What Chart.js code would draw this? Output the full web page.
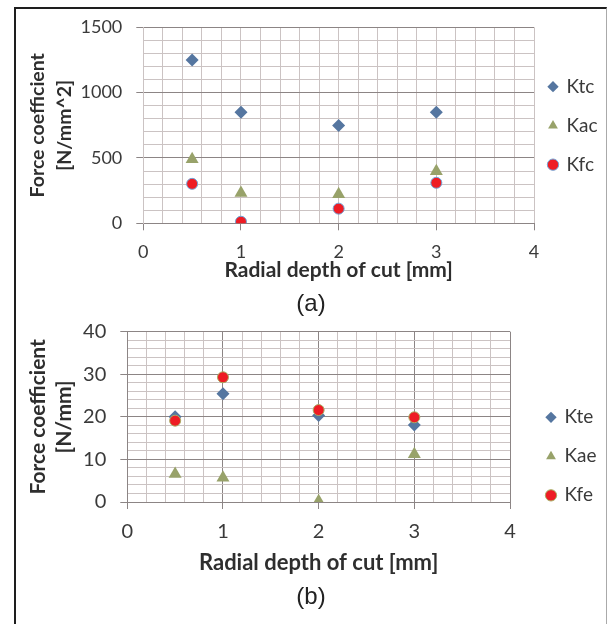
<!DOCTYPE html>
<html>
<head>
<meta charset="utf-8">
<script src="https://cdn.jsdelivr.net/npm/chart.js@4/dist/chart.umd.min.js"></script>
<style>
  html, body { margin: 0; padding: 0; background: #fff; }
  body { width: 611px; height: 624px; position: relative; overflow: hidden; }
  .frame {
    position: absolute; left: 14px; top: 7px; width: 590px; height: 640px;
    border-left: 2px solid #1e1e1e; border-top: 2px solid #1e1e1e; border-right: 1px solid #aaa;
  }
  canvas { position: absolute; left: 0; }
  .cap {
    position: absolute; left: 0; width: 622px; text-align: center;
    font-family: "Liberation Sans", Arial, sans-serif; font-size: 24px; line-height: 24px; color: #222;
  }
</style>
</head>
<body>
<div class="frame"></div>
<canvas id="chartA" width="611" height="290" style="top:0px"></canvas>
<div class="cap" style="top:291px">(a)</div>
<canvas id="chartB" width="611" height="280" style="top:305px"></canvas>
<div class="cap" style="top:584px">(b)</div>
<script>
// radial depth of cut [mm]
const depths = [0.5, 1, 2, 3];

// (a) cutting force coefficients [N/mm^2]
const ktc = [1250, 850, 748, 850];
const kac = [490, 232, 222, 398];
const kfc = [302, 12, 112, 310];

// (b) edge force coefficients [N/mm]
const kte = [20.0, 25.4, 20.3, 18.1];
const kae = [6.6, 5.7, 0.2, 11.2];
const kfe = [19.1, 29.3, 21.6, 19.9];

const xRange = [0, 4];
const yRangeA = [0, 1500];
const yRangeB = [0, 40];

const blue = "#5576a0";
const olive = "#98a26a";
const red = "#ee1c24";
const minorGrid = "#cbc3c3";
const majorGrid = "#8c8585";
const textColor = "#3a3a3a";

Chart.defaults.font.family = "Lato, 'Open Sans', sans-serif";
Chart.defaults.color = textColor;

function pts(xs, ys) {
  return xs.map((x, i) => ({ x: x, y: ys[i] }));
}

function isMultiple(v, step) {
  const r = v / step;
  return Math.abs(r - Math.round(r)) < 1e-6;
}

// move the legend box to where the original sits
const legendShift = {
  id: "legendShift",
  afterLayout(chart, args, opts) {
    const l = chart.legend;
    l.left += opts.dx; l.right += opts.dx;
    l.top += opts.dy; l.bottom += opts.dy;
  }
};

function makeChart(id, cfg) {
  const ctx = document.getElementById(id).getContext("2d");
  return new Chart(ctx, {
    type: "scatter",
    data: {
      datasets: [
        { label: cfg.names[0], data: pts(depths, cfg.series[0]), pointStyle: "rectRot", radius: 6.5,
          backgroundColor: blue, borderColor: blue, borderWidth: 0, order: 2 },
        { label: cfg.names[1], data: pts(depths, cfg.series[1]), pointStyle: "triangle", radius: 7.5,
          backgroundColor: olive, borderColor: olive, borderWidth: 0, order: 1 },
        { label: cfg.names[2], data: pts(depths, cfg.series[2]), pointStyle: "circle", radius: 5.5,
          backgroundColor: red, borderColor: cfg.ringColor, borderWidth: 1, order: 0 }
      ]
    },
    options: {
      responsive: false,
      animation: false,
      events: [],
      layout: { padding: { left: 16, top: cfg.top, right: cfg.right, bottom: 0 } },
      plugins: {
        tooltip: { enabled: false },
        legend: {
          position: "right",
          maxWidth: 77,
          labels: {
            usePointStyle: true,
            boxWidth: 8,
            boxHeight: 8,
            padding: 20,
            color: textColor,
            font: { size: 19 },
            sort: (a, b) => a.datasetIndex - b.datasetIndex
          }
        },
        legendShift: cfg.legendShift
      },
      scales: {
        x: {
          type: "linear",
          min: xRange[0],
          max: xRange[1],
          afterFit: (s) => { s.height = cfg.xHeight; },
          border: { display: true, color: majorGrid },
          grid: {
            color: (c) => (cfg.xMajor && isMultiple(c.tick.value, 1)) ? majorGrid : minorGrid,
            tickColor: (c) => isMultiple(c.tick.value, 1) ? majorGrid : "rgba(0,0,0,0)",
            tickLength: 7
          },
          ticks: {
            stepSize: 0.2,
            autoSkip: false,
            maxRotation: 0,
            padding: 11,
            font: { size: cfg.tickSize },
            callback: (v) => isMultiple(v, 1) ? Math.round(v) : ""
          },
          title: {
            display: true,
            text: "Radial depth of cut [mm]",
            font: { size: cfg.xTitleSize, weight: "bold" },
            color: "#2e2e2e",
            padding: { top: 0, bottom: cfg.xTitlePad }
          }
        },
        y: {
          min: cfg.yRange[0],
          max: cfg.yRange[1],
          afterFit: (s) => { s.width = cfg.yWidth; },
          border: { display: true, color: cfg.xMajor ? majorGrid : minorGrid },
          grid: {
            color: (c) => isMultiple(c.tick.value, cfg.yMajor) ? majorGrid : minorGrid,
            tickColor: (c) => isMultiple(c.tick.value, cfg.yMajor) ? majorGrid : "rgba(0,0,0,0)",
            tickLength: 7
          },
          ticks: {
            stepSize: cfg.yStep,
            autoSkip: false,
            padding: cfg.yTickPad,
            font: { size: cfg.tickSize },
            callback: (v) => isMultiple(v, cfg.yMajor) ? Math.round(v) : ""
          },
          title: {
            display: true,
            text: ["Force coefficient", cfg.unit],
            font: { size: cfg.yTitleSize, weight: "bold", lineHeight: 26.5 / cfg.yTitleSize },
            color: "#2e2e2e",
            padding: { top: 8.5, bottom: 0 }
          }
        }
      }
    },
    plugins: [legendShift]
  });
}

makeChart("chartA", {
  names: ["Ktc", "Kac", "Kfc"],
  series: [ktc, kac, kfc],
  ringColor: "#6fa3d6",
  unit: "[N/mm^2]",
  yRange: yRangeA, yStep: 100, yMajor: 500,
  xMajor: false,
  top: 27.3, right: 0,
  xHeight: 66.7, yWidth: 127.3,
  xTitlePad: 7, yTickPad: 14,
  tickSize: 18, xTitleSize: 21, yTitleSize: 19.5,
  legendShift: { dx: -5, dy: -33 }
});

makeChart("chartB", {
  names: ["Kte", "Kae", "Kfe"],
  series: [kte, kae, kfe],
  ringColor: "#a8ad63",
  unit: "[N/mm]",
  yRange: yRangeB, yStep: 2, yMajor: 10,
  xMajor: true,
  top: 26.7, right: 24,
  xHeight: 83, yWidth: 111.3,
  xTitlePad: 8.6, yTickPad: 14,
  tickSize: 20, xTitleSize: 22, yTitleSize: 21,
  legendShift: { dx: 17, dy: -2 }
});
</script>
</body>
</html>
